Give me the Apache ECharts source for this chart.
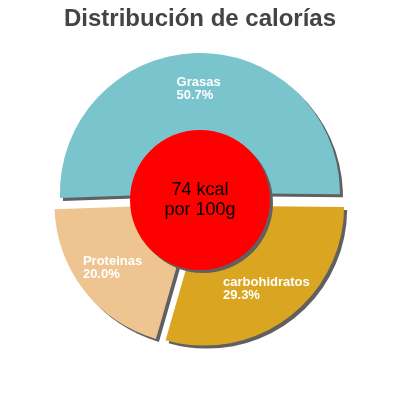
<!DOCTYPE html>
<html>
<head>
<meta charset="utf-8">
<script src="https://cdn.jsdelivr.net/npm/echarts@6/dist/echarts.min.js"></script>
<style>
html,body{margin:0;padding:0;background:#fff;}
#c{width:400px;height:400px;}
</style>
</head>
<body>
<div id="c"></div>
<script>
var titleText = 'Distribución de calorías';
var categories = ['Grasas', 'carbohidratos', 'Proteinas'];
var percents = [50.7, 29.3, 20.0];
var colors = ['#7AC5CD', '#DAA520', '#EEC591'];
var centerLines = ['74 kcal', 'por 100g'];

var chart = echarts.init(document.getElementById('c'), null, {renderer: 'canvas'});
var shadow = {shadowColor: '#606060', shadowOffsetX: 3, shadowOffsetY: 3, shadowBlur: 0};

var pieData = categories.map(function (name, i) {
  return {
    name: name,
    value: percents[i],
    selected: true,
    itemStyle: Object.assign({color: colors[i]}, shadow)
  };
});

chart.setOption({
  animation: false,
  title: {
    text: titleText,
    left: 'center',
    top: 2,
    textStyle: {fontFamily: 'Liberation Sans', fontSize: 24, fontWeight: 'bold', color: '#444444'}
  },
  series: [{
    type: 'pie',
    center: [200, 200],
    radius: [62, 140],
    startAngle: 182,
    clockwise: true,
    selectedMode: 'multiple',
    selectedOffset: 7,
    avoidLabelOverlap: false,
    emphasis: {disabled: true},
    label: {
      show: true,
      position: 'inside',
      formatter: function (p) {
        return '{t|' + p.name + '}\n{t|' + p.value.toFixed(1) + '%}';
      },
      rich: {
        t: {align: 'left', color: '#ffffff', fontFamily: 'Liberation Sans', fontSize: 13, fontWeight: 'bold', lineHeight: 13}
      }
    },
    labelLine: {show: false},
    data: pieData
  }, {
    type: 'pie',
    center: [200, 200],
    radius: [0, 70],
    z: 5,
    silent: true,
    emphasis: {disabled: true},
    label: {
      show: true,
      position: 'center',
      formatter: centerLines.join('\n'),
      fontFamily: 'Liberation Sans',
      fontSize: 18,
      lineHeight: 20,
      color: '#000000'
    },
    labelLine: {show: false},
    itemStyle: Object.assign({color: '#FF0000'}, shadow),
    data: [{value: 1, name: 'center'}]
  }]
});
</script>
</body>
</html>
